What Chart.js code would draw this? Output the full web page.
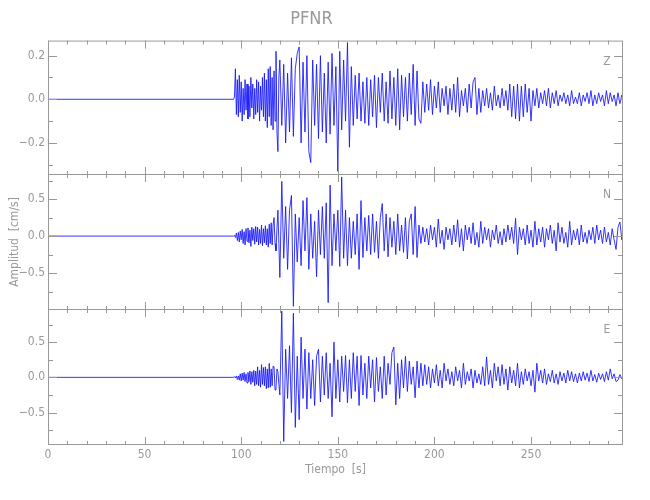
<!DOCTYPE html>
<html>
<head>
<meta charset="utf-8">
<script src="https://cdn.jsdelivr.net/npm/chart.js@4.4.1/dist/chart.umd.min.js"></script>
<style>
  body { margin: 0; background: #fff; }
  #wrap { position: relative; width: 650px; height: 500px; }
  canvas { position: absolute; left: 0; }
</style>
</head>
<body>
<div id="wrap">
  <canvas id="c-z" width="650" height="175" style="top:0px"></canvas>
  <canvas id="c-n" width="650" height="136" style="top:174px"></canvas>
  <canvas id="c-e" width="650" height="191" style="top:309px"></canvas>
</div>
<script>
// ============================================================
// Data (velocity, cm/s)
// Onset window sampled every 0.5 s, rest of the record every 1 s.
// ============================================================
const ONSET_START = 96;
const ONSET_STEP = 0.5;
const MAIN_START = 120;
const MAIN_STEP = 1;
const X_TICKS = [0, 50, 100, 150, 200, 250];
const X_MINOR = 10;
const X_MAX = 297.6;

// ---- Z ----
const Z_ONSET = [
  0, 0.01, 0.14, -0.07, 0.09, -0.08, 0.11, -0.06,
  0.08, -0.1, 0.05, -0.07, 0.09, -0.05, 0.07, -0.09,
  0.06, -0.08, 0.1, -0.04, 0.07, -0.09, 0.05, -0.07,
  0.09, -0.06, 0.08, -0.1, 0.06, -0.05, 0.1, -0.08,
  0.12, -0.1, 0.09, -0.13, 0.14, -0.08, 0.15, -0.12,
  0.1, -0.14, 0.13, -0.1, 0.22, -0.15, -0.24, 0.1,
];
const Z_MAIN = [
  0.18, -0.12, 0.16, -0.2, 0.12, -0.15,
  0.19, -0.17, 0.14, 0.21, 0.24, -0.2, 0.17, -0.15, 0.2, -0.24,
  -0.29, 0.18, -0.12, 0.16, -0.18, 0.2, -0.15, 0.12, -0.2, 0.17,
  -0.16, 0.21, -0.12, 0.15, -0.33, 0.22, -0.14, 0.18, -0.1, 0.26,
  -0.22, 0.15, -0.12, 0.11, -0.09, 0.12, -0.1, 0.08, -0.11, 0.1,
  -0.12, 0.09, -0.08, 0.11, -0.13, 0.1, -0.06, 0.12, -0.1, 0.08,
  -0.11, 0.13, -0.09, 0.1, -0.12, 0.14, -0.14, 0.11, -0.08, 0.1,
  -0.1, 0.12, -0.07, 0.16, -0.12, 0.13, -0.09, -0.11, 0.08, -0.06,
  0.07, -0.05, 0.09, -0.07, 0.06, -0.04, 0.08, -0.06, 0.05, -0.03,
  0.06, -0.07, 0.05, -0.05, 0.07, -0.06, 0.1, -0.08, 0.04, -0.03,
  0.05, -0.06, 0.07, -0.04, 0.08, 0.1, -0.07, 0.05, -0.06, 0.04,
  -0.03, 0.05, -0.04, 0.03, -0.05, 0.06, -0.03, 0.02, -0.04, 0.05,
  -0.03, 0.04, -0.05, 0.07, -0.08, 0.06, -0.09, 0.07, -0.1, 0.06,
  -0.08, 0.07, -0.06, 0.05, -0.1, 0.04, -0.03, 0.05, -0.04, 0.03,
  -0.02, 0.04, -0.03, 0.05, -0.04, 0.03, -0.02, 0.04, -0.03, 0.02,
  -0.01, 0.03, -0.02, 0.02, -0.03, 0.04, -0.02, 0.01, -0.02, 0.03,
  -0.03, 0.02, -0.01, 0.03, -0.02, 0.04, -0.03, 0.02, -0.02, 0.03,
  -0.01, 0.02, -0.03, 0.04, -0.02, 0.03, -0.01, 0.02, -0.03, 0.03,
  -0.02, 0.02, -0.01, 0.01,
];

// ---- N ----
const N_ONSET = [
  0, 0.01, -0.02, 0.04, -0.06, 0.05, -0.08, 0.07,
  -0.05, 0.09, -0.1, 0.06, -0.12, 0.1, -0.07, 0.11,
  -0.09, 0.08, -0.14, 0.12, -0.06, 0.1, -0.11, 0.13,
  -0.08, 0.12, -0.12, 0.09, -0.1, 0.15, -0.13, 0.1,
  -0.09, 0.14, -0.12, 0.1, -0.15, 0.16, -0.1, 0.18,
  -0.12, 0.15, 0.25, -0.1, -0.2, 0.1, 0.35, -0.1,
];
const N_MAIN = [
  -0.56, 0.74, -0.3, 0.4, -0.45, 0.35,
  0.55, -0.95, 0.3, -0.35, 0.25, -0.4, 0.48, -0.2, 0.52, -0.45,
  0.3, -0.3, 0.2, -0.55, 0.35, -0.25, 0.4, -0.3, 0.45, -0.9,
  0.69, -0.4, 0.3, -0.2, 0.35, -0.41, 0.8, -0.3, 0.35, -0.4,
  0.25, -0.3, 0.2, -0.25, 0.3, -0.45, 0.48, -0.29, 0.25, -0.2,
  0.28, -0.25, 0.3, -0.22, 0.2, -0.3, 0.25, 0.44, -0.2, 0.3,
  -0.28, 0.25, -0.15, 0.2, -0.25, 0.3, -0.2, 0.15, -0.22, 0.25,
  -0.31, 0.2, 0.3, -0.25, 0.4, -0.29, 0.15, -0.1, 0.12, -0.08,
  0.1, -0.12, 0.15, -0.05, 0.12, -0.15, 0.23, -0.1, 0.08, -0.18,
  0.12, -0.05, 0.1, -0.12, 0.15, -0.08, 0.22, -0.15, 0.1, -0.2,
  0.15, -0.05, 0.12, -0.1, 0.18, -0.12, 0.05, -0.15, 0.2, -0.1,
  0.12, -0.05, 0.1, -0.15, 0.08, -0.05, 0.15, -0.1, 0.06, -0.12,
  0.1, -0.08, 0.15, -0.05, 0.12, -0.1, 0.24, -0.25, 0.12, -0.05,
  0.1, -0.12, 0.15, -0.1, 0.08, -0.15, 0.2, -0.12, 0.1, -0.08,
  0.12, -0.15, 0.1, -0.05, 0.15, -0.1, 0.08, -0.2, 0.18, -0.08,
  0.12, -0.1, 0.05, -0.15, 0.2, -0.12, 0.08, -0.05, 0.1, -0.12,
  0.15, -0.08, 0.05, -0.1, 0.08, -0.05, 0.12, -0.1, 0.15, -0.05,
  0.08, -0.1, 0.12, -0.08, 0.05, -0.12, 0.1, -0.05, -0.18, 0.12,
  0.19, -0.05, 0.08, 0.15,
];

// ---- E ----
const E_ONSET = [
  0, 0.01, -0.01, 0.02, -0.03, 0.02, -0.04, 0.05,
  -0.05, 0.06, -0.04, 0.07, -0.06, 0.05, -0.08, 0.07,
  -0.06, 0.09, -0.1, 0.08, -0.07, 0.1, -0.12, 0.09,
  -0.1, 0.15, -0.12, 0.1, -0.14, 0.18, -0.1, 0.14,
  -0.12, 0.15, -0.16, 0.12, -0.15, 0.2, -0.14, 0.12,
  -0.12, 0.16, 0.15, -0.18, -0.15, 0.12, 0.08, -0.1,
];
const E_MAIN = [
  -0.25, 0.94, -0.91, 0.4, -0.3, 0.45,
  -0.5, 0.91, -0.71, 0.3, -0.6, 0.57, -0.3, 0.4, -0.45, 0.35,
  -0.3, 0.25, -0.4, 0.3, 0.4, -0.35, 0.3, -0.25, 0.35, -0.3,
  0.2, -0.56, 0.5, -0.3, 0.25, -0.35, 0.3, -0.2, 0.31, -0.36,
  0.25, -0.3, 0.35, -0.2, 0.3, -0.4, 0.31, -0.25, 0.2, -0.3,
  0.3, -0.15, 0.25, -0.35, 0.28, -0.2, 0.15, -0.3, 0.3, -0.25,
  0.2, -0.1, 0.35, 0.43, -0.39, 0.2, -0.3, 0.25, -0.15, 0.3,
  -0.2, 0.23, -0.1, 0.15, -0.29, 0.23, -0.15, 0.2, -0.12, 0.18,
  -0.1, 0.15, -0.15, 0.12, -0.08, 0.18, -0.12, 0.1, -0.15, 0.2,
  -0.05, 0.12, -0.1, 0.08, -0.12, 0.15, -0.05, 0.1, -0.15, 0.2,
  -0.1, 0.08, -0.05, 0.12, -0.15, 0.1, -0.08, 0.05, -0.1, 0.15,
  -0.12, 0.29, -0.1, 0.1, -0.15, 0.2, -0.05, 0.15, -0.12, 0.18,
  -0.1, 0.12, -0.18, 0.15, -0.08, 0.1, -0.12, 0.2, -0.15, 0.08,
  -0.1, 0.12, -0.05, 0.08, -0.12, 0.1, -0.21, 0.2, -0.05, 0.1,
  -0.08, 0.12, -0.1, 0.05, -0.06, 0.1, -0.08, 0.05, -0.1, 0.08,
  -0.05, 0.06, -0.08, 0.1, -0.05, 0.08, -0.06, 0.05, -0.08, 0.06,
  -0.05, 0.08, -0.04, 0.06, -0.06, 0.1, -0.05, 0.04, -0.07, 0.06,
  -0.03, 0.05, -0.06, 0.08, -0.04, 0.12, -0.02, 0.05, -0.06, -0.04,
  0.04, -0.02, 0.06, 0.08,
];

// Y ticks per component
const Z_TICKS = [-0.2, 0, 0.2];
const Z_MINOR = [-0.3, -0.1, 0.1];
const N_TICKS = [-0.5, 0, 0.5];
const N_MINOR = [-0.75, -0.25, 0.25, 0.75];
const E_TICKS = [-0.5, 0, 0.5];
const E_MINOR = [-0.75, -0.25, 0.25, 0.75];

// ============================================================
// Styling
// ============================================================
const AXIS_COLOR = '#999999';
const TRACE_COLOR = 'rgba(20, 20, 255, 0.85)';
const FONT = "'DejaVu Sans Condensed', 'DejaVu Sans', sans-serif";

Chart.defaults.font.family = FONT;
Chart.defaults.color = AXIS_COLOR;
Chart.defaults.font.size = 12;

function toPoints(onset, main) {
  const pts = [{ x: 0, y: 0 }];
  onset.forEach((v, i) => pts.push({ x: ONSET_START + i * ONSET_STEP, y: v }));
  main.forEach((v, i) => pts.push({ x: MAIN_START + i * MAIN_STEP, y: v }));
  return pts;
}

function fmtTick(v) {
  if (v === 0) return '0.0';
  return (v < 0 ? '\u2212' : '') + Math.abs(v).toFixed(1);
}

// Box around the plot area with inward ticks on all four sides
const frameTicks = {
  id: 'frameTicks',
  afterDraw(chart, args, opts) {
    const { ctx, chartArea: a, scales: { x, y } } = chart;
    ctx.save();
    ctx.strokeStyle = AXIS_COLOR;
    ctx.lineWidth = 1;
    ctx.strokeRect(a.left + 0.5, a.top + 0.5, a.width - 1, a.height - 1);
    ctx.beginPath();
    for (let t = 0; t <= x.max; t += X_MINOR) {
      const px = Math.round(x.getPixelForValue(t)) + 0.5;
      const len = t % 50 === 0 ? 8 : 4;
      ctx.moveTo(px, a.top); ctx.lineTo(px, a.top + len);
      ctx.moveTo(px, a.bottom); ctx.lineTo(px, a.bottom - len);
    }
    const yTick = (v, len) => {
      const py = Math.round(y.getPixelForValue(v)) + 0.5;
      ctx.moveTo(a.left, py); ctx.lineTo(a.left + len, py);
      ctx.moveTo(a.right, py); ctx.lineTo(a.right - len, py);
    };
    opts.major.forEach(v => yTick(v, 9));
    opts.minor.forEach(v => yTick(v, 5));
    ctx.stroke();
    // component letter
    ctx.fillStyle = AXIS_COLOR;
    ctx.font = '12px ' + FONT;
    ctx.textAlign = 'center';
    ctx.textBaseline = 'middle';
    ctx.fillText(opts.letter, a.right - 16, a.top + 21);
    ctx.restore();
  },
};

function makePanel(id, onset, main, range, major, minor, letter, extra) {
  const showX = !!extra.xTitle;
  new Chart(document.getElementById(id), {
    type: 'line',
    data: {
      datasets: [{
        data: toPoints(onset, main),
        borderColor: TRACE_COLOR,
        borderWidth: 1,
        pointRadius: 0,
        tension: 0,
      }],
    },
    options: {
      responsive: false,
      animation: false,
      parsing: false,
      layout: { padding: { left: 0, right: 27, top: 0, bottom: 0 } },
      plugins: {
        legend: { display: false },
        tooltip: { enabled: false },
        title: extra.title
          ? { display: true, text: extra.title, color: AXIS_COLOR,
              font: { size: 18, weight: 'normal' }, padding: { top: 9, bottom: 10 } }
          : { display: false },
        frameTicks: { major, minor, letter },
      },
      scales: {
        x: {
          type: 'linear',
          min: 0,
          max: X_MAX,
          display: showX,
          grid: { display: false, drawTicks: false },
          border: { display: false },
          afterBuildTicks: s => { s.ticks = X_TICKS.map(v => ({ value: v })); },
          afterFit: s => {
            s.height = showX ? 55 : 0;
            s.paddingLeft = 0;
            s.paddingRight = 0;
          },
          ticks: { padding: 3, color: AXIS_COLOR, maxRotation: 0 },
          title: { display: showX, text: extra.xTitle || '', color: AXIS_COLOR,
                   font: { size: 12 }, padding: { top: 0, bottom: 23 } },
        },
        y: {
          type: 'linear',
          min: range[0],
          max: range[1],
          grid: { display: false, drawTicks: false },
          border: { display: false },
          afterBuildTicks: s => { s.ticks = major.map(v => ({ value: v })); },
          afterFit: s => { s.width = 48; s.paddingTop = 0; s.paddingBottom = 0; },
          ticks: { padding: 3, color: AXIS_COLOR, callback: fmtTick },
          title: { display: !!extra.yTitle, text: extra.yTitle || '', color: AXIS_COLOR,
                   font: { size: 12 }, padding: { top: 8, bottom: 0 } },
        },
      },
    },
    plugins: [frameTicks],
  });
}

document.addEventListener('DOMContentLoaded', () => {
  makePanel('c-z', Z_ONSET, Z_MAIN, [-0.347, 0.269], Z_TICKS, Z_MINOR, 'Z', { title: 'PFNR' });
  makePanel('c-n', N_ONSET, N_MAIN, [-1.0, 0.84], N_TICKS, N_MINOR, 'N', { yTitle: 'Amplitud  [cm/s]' });
  makePanel('c-e', E_ONSET, E_MAIN, [-0.96, 0.97], E_TICKS, E_MINOR, 'E', { xTitle: 'Tiempo  [s]' });
});
</script>
</body>
</html>
